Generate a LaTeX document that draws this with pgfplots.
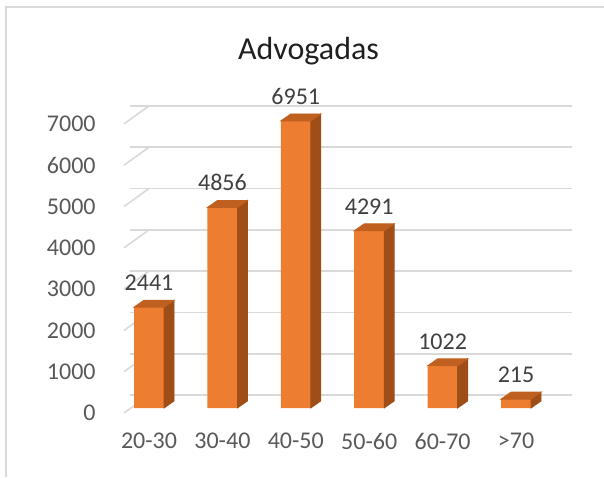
\documentclass[border=0pt]{standalone}
\usepackage{fontspec}
\setmainfont{Carlito}
\usepackage{pgfplots}
\pgfplotsset{compat=1.18}
\usepackage{pgfplotstable}

\definecolor{barfront}{RGB}{237,125,49}
\definecolor{barside}{RGB}{160,78,24}
\definecolor{bartop}{RGB}{192,96,32}
\definecolor{gridc}{RGB}{217,217,217}
\definecolor{ticktxt}{RGB}{89,89,89}
\definecolor{labtxt}{RGB}{64,64,64}

% age groups at 0..5, count of lawyers
\pgfplotstableread{
x y
0 2441
1 4856
2 6951
3 4291
4 1022
5 215
}\agedata

\begin{document}
\begin{tikzpicture}
\path[use as bounding box] (0,0) rectangle (302pt,-238.5pt);
\draw[gridc, line width=0.8pt] (3pt,-238.5pt) -- (3pt,-3.5pt) -- (302pt,-3.5pt);
\node[anchor=base, inner sep=0pt, font=\fontsize{16}{19}\selectfont, text=black!88] at (154.25pt,-29.5pt) {Advogadas};
\begin{axis}[
  at={(65pt,-204pt)}, anchor=south west,
  x=36.7pt, y=0.020643pt,
  xmin=-0.259, xmax=5.763, ymin=0, ymax=7000,
  axis line style={draw=none},
  tick style={draw=none},
  major tick length=0pt,
  ymajorgrids,
  grid style={gridc, line width=0.8pt, yshift=6.5pt},
  ytick={0,1000,...,7000},
  xtick={0,...,5},
  xticklabels={20-30,30-40,40-50,50-60,60-70,>70},
  /pgf/number format/assume math mode=true,
  /pgf/number format/1000 sep={},
  tick label style={font=\fontsize{12}{14}\selectfont, text=ticktxt, inner sep=0pt},
  yticklabel style={anchor=east, xshift=-17pt, yshift=-2.5pt},
  xticklabel style={anchor=north, yshift=-12.5pt},
  clip=false,
]
\pgfplotsinvokeforeach{0,1000,...,7000}{
  \draw[gridc, line width=0.8pt] (axis cs:-0.259,#1) ++(0,6.5pt) -- ++(-12.5pt,-9pt);
}
% front faces
\addplot[ybar, bar width=15pt, fill=barfront, draw=none,
  nodes near coords,
  every node near coord/.append style={font=\fontsize{12}{14}\selectfont, text=labtxt, inner sep=0pt, anchor=south, yshift=8pt}]
  table[x=x, y=y] {\agedata};
% side and top faces
\addplot[only marks, scatter, mark=text, text mark={},
  visualization depends on={\thisrow{y} \as \hval},
  scatter/@pre marker code/.code={%
    \pgfmathsetmacro\hh{\hval*0.020643}%
    \fill[barside] (7.5pt,0pt) -- (12.5pt,3.5pt) -- (12.5pt,{3.5pt-\hh pt}) -- (7.5pt,{-\hh pt}) -- cycle;
    \fill[bartop] (-7.5pt,0pt) -- (7.5pt,0pt) -- (12.5pt,3.5pt) -- (-2.5pt,3.5pt) -- cycle;
  },
  scatter/@post marker code/.code={}]
  table[x=x, y=y] {\agedata};
\end{axis}
\end{tikzpicture}
\end{document}
